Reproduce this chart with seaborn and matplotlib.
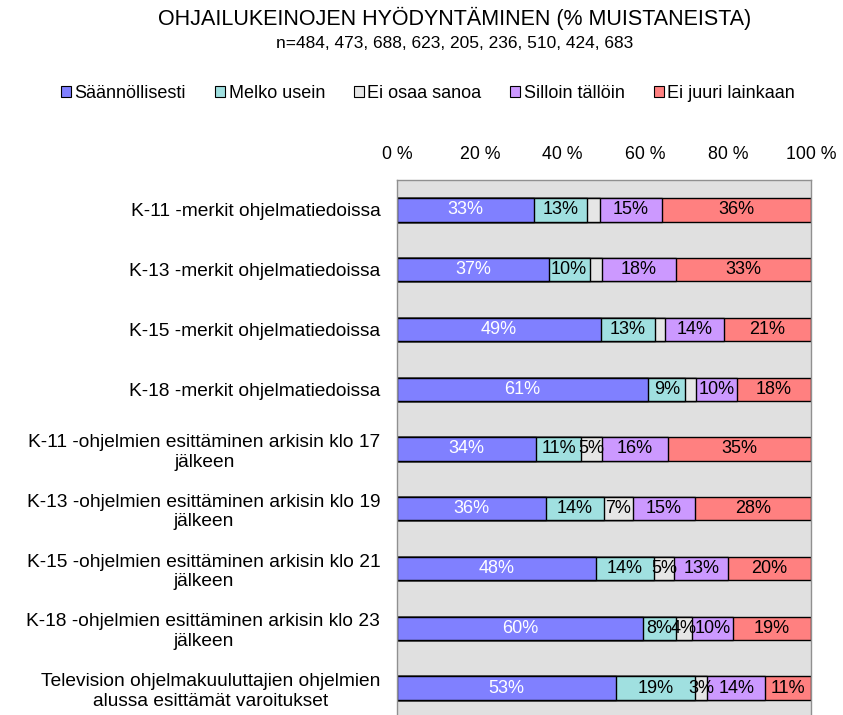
import matplotlib
matplotlib.use("Agg")
import matplotlib.pyplot as plt
from matplotlib.patches import Patch
import seaborn as sns
import pandas as pd
import numpy as np

categories = [
    "K-11 -merkit ohjelmatiedoissa",
    "K-13 -merkit ohjelmatiedoissa",
    "K-15 -merkit ohjelmatiedoissa",
    "K-18 -merkit ohjelmatiedoissa",
    "K-11 -ohjelmien esittäminen arkisin klo 17\njälkeen",
    "K-13 -ohjelmien esittäminen arkisin klo 19\njälkeen",
    "K-15 -ohjelmien esittäminen arkisin klo 21\njälkeen",
    "K-18 -ohjelmien esittäminen arkisin klo 23\njälkeen",
    "Television ohjelmakuuluttajien ohjelmien\nalussa esittämät varoitukset",
]
series = ["Säännöllisesti", "Melko usein", "Ei osaa sanoa", "Silloin tällöin", "Ei juuri lainkaan"]
saannollisesti = [33, 37, 49, 61, 34, 36, 48, 60, 53]
melko_usein = [13, 10, 13, 9, 11, 14, 14, 8, 19]
ei_osaa = [3, 3, 2.5, 2.5, 5, 7, 5, 4, 3]
silloin = [15, 18, 14, 10, 16, 15, 13, 10, 14]
ei_juuri = [36, 33, 21, 18, 35, 28, 20, 19, 11]
ei_osaa_labelled = [False, False, False, False, True, True, True, True, True]
ticks = [0, 20, 40, 60, 80, 100]
tick_labels = ["0 %", "20 %", "40 %", "60 %", "80 %", "100 %"]

colors = ["#8080FF", "#A0E0E0", "#E6E6E6", "#CC99FF", "#FF8080"]
text_colors = ["white", "black", "black", "black", "black"]

sns.set_style("white")
plt.rcParams['font.family'] = ['Liberation Sans', 'DejaVu Sans']
plt.rcParams['text.color'] = 'black'
plt.rcParams['xtick.color'] = 'black'
plt.rcParams['ytick.color'] = 'black'

vals = np.array([saannollisesti, melko_usein, ei_osaa, silloin, ei_juuri], dtype=float)
totals = vals.sum(axis=0)
norm = vals / totals * 100
cum = np.cumsum(norm, axis=0)

fig = plt.figure(figsize=(8.43, 7.15), dpi=100)
ax = fig.add_axes([397/843, 1 - 718/715, 414/843, 538/715])
ax.set_facecolor("#E0E0E0")

for i in range(len(series) - 1, -1, -1):
    df = pd.DataFrame({"cat": categories, "val": cum[i]})
    sns.barplot(data=df, x="val", y="cat", orient="h", color=colors[i],
                edgecolor="black", linewidth=1, width=0.39, saturation=1,
                ax=ax, order=categories)

for i in range(len(series)):
    for j in range(len(categories)):
        if i == 2 and not ei_osaa_labelled[j]:
            continue
        start = cum[i][j] - norm[i][j]
        center = start + norm[i][j] / 2
        ax.text(center, j, f"{int(vals[i][j])}%", ha="center", va="center",
                color=text_colors[i], fontsize=13)

ax.set_xlim(0, 100)
ax.set_ylim(8.5, -0.5)
ax.set_xticks(ticks)
ax.set_xticklabels(tick_labels, fontsize=12.8)
ax.xaxis.tick_top()
ax.tick_params(axis="x", length=0, pad=12)
ax.tick_params(axis="y", length=0, pad=12)
ax.set_xlabel("")
ax.set_ylabel("")
for lab in ax.get_yticklabels():
    lab.set_fontsize(13.8)
    lab.set_multialignment("center")
for s in ax.spines.values():
    s.set_color("#909090")
    s.set_linewidth(1)

fig.text(455/843, 1 - 18/715, "OHJAILUKEINOJEN HYÖDYNTÄMINEN (% MUISTANEISTA)",
         ha="center", va="center", fontsize=15.5)
fig.text(455/843, 1 - 44/715, "n=484, 473, 688, 623, 205, 236, 510, 424, 683",
         ha="center", va="center", fontsize=12.5)

handles = [Patch(facecolor=c, edgecolor="black", linewidth=0.8) for c in colors]
fig.legend(handles, series, loc="center", bbox_to_anchor=(428/843, 1 - 93/715),
           ncol=5, frameon=False, fontsize=13, handlelength=0.55, handleheight=0.55,
           handletextpad=0.2, columnspacing=1.6)

fig.savefig("out.png", dpi=100)
